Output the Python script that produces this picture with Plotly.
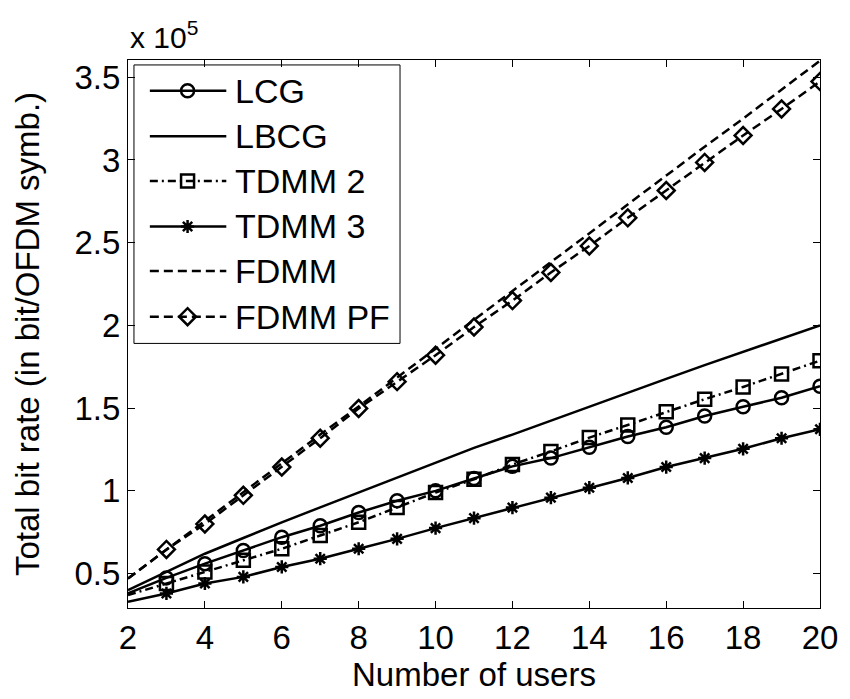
import plotly.graph_objects as go

# Number of users on the horizontal axis
users = list(range(2, 21))

# Total bit rate, in units of 10^5 bit per OFDM symbol
rate_lcg = [0.38, 0.474, 0.56, 0.64, 0.72, 0.789, 0.869, 0.94, 1.0, 1.075,
            1.148, 1.198, 1.264, 1.328, 1.384, 1.452, 1.508, 1.563, 1.632]
rate_lbcg = [0.40, 0.51, 0.62, 0.715, 0.81, 0.90, 0.99, 1.08, 1.17, 1.26,
             1.34, 1.425, 1.51, 1.595, 1.677, 1.76, 1.84, 1.92, 2.0]
rate_tdmm2 = [0.37, 0.44, 0.51, 0.58, 0.65, 0.73, 0.81, 0.90, 0.99, 1.07,
              1.159, 1.238, 1.322, 1.398, 1.478, 1.554, 1.628, 1.707, 1.787]
rate_tdmm3 = [0.33, 0.38, 0.44, 0.48, 0.54, 0.59, 0.65, 0.71, 0.775, 0.835,
              0.899, 0.959, 1.019, 1.078, 1.144, 1.198, 1.254, 1.318, 1.372]
rate_fdmm = [0.47, 0.645, 0.82, 0.99, 1.165, 1.34, 1.51, 1.685, 1.86, 2.03,
             2.21, 2.38, 2.555, 2.73, 2.905, 3.08, 3.25, 3.425, 3.60]
rate_fdmm_pf = [0.47, 0.646, 0.80, 0.973, 1.144, 1.318, 1.498, 1.66, 1.82, 1.99,
                2.15, 2.32, 2.48, 2.65, 2.815, 2.985, 3.148, 3.308, 3.474]

series_names = ["LCG", "LBCG", "TDMM 2", "TDMM 3", "FDMM", "FDMM PF"]

x_ticks = list(range(2, 21, 2))
y_ticks = [0.5, 1.0, 1.5, 2.0, 2.5, 3.0, 3.5]
y_tick_labels = ["0.5", "1", "1.5", "2", "2.5", "3", "3.5"]

FONT = "Liberation Sans, Arial, sans-serif"
LW = 2.5

# style per series: (values, dash, marker symbol, marker size)
styles = [
    (rate_lcg, "solid", "circle-open", 13),
    (rate_lbcg, "solid", None, 0),
    (rate_tdmm2, "8px,4px,2px,4px", "square-open", 13),
    (rate_tdmm3, "solid", "asterisk-open", 11),
    (rate_fdmm, "9px,5px", None, 0),
    (rate_fdmm_pf, "9px,5px", "diamond-open", 13),
]

fig = go.Figure()

for name, (vals, dash, sym, size) in zip(series_names, styles):
    if sym is None:
        fig.add_trace(go.Scatter(
            x=users, y=vals, mode="lines", name=name,
            line=dict(color="black", width=LW, dash=dash),
            showlegend=False))
    else:
        # no marker on the first sample (x = 2)
        sizes = [0] + [size] * (len(users) - 1)
        fig.add_trace(go.Scatter(
            x=users, y=vals, mode="lines+markers", name=name,
            line=dict(color="black", width=LW, dash=dash),
            marker=dict(symbol=sym, size=sizes, color="black", opacity=1,
                        line=dict(color="black", width=LW)),
            showlegend=False))

# Legend drawn on an overlay axis measured in pixels of the figure
L_LEFT, L_TOP, L_RIGHT, L_BOTTOM = 134, 65, 402, 346
row_y = [91, 137, 182, 228, 273, 319]
seg_x0, seg_x1, mark_x, text_x = 150, 227, 188, 234

fig.add_shape(type="rect", xref="x2", yref="y2",
              x0=L_LEFT, x1=L_RIGHT, y0=L_TOP, y1=L_BOTTOM,
              line=dict(color="black", width=1), fillcolor="white",
              layer="below")

for name, (vals, dash, sym, size), ry in zip(series_names, styles, row_y):
    fig.add_trace(go.Scatter(
        x=[seg_x0, seg_x1], y=[ry, ry], mode="lines", xaxis="x2", yaxis="y2",
        line=dict(color="black", width=LW, dash=dash),
        showlegend=False, hoverinfo="skip"))
    if sym is not None:
        fig.add_trace(go.Scatter(
            x=[mark_x], y=[ry], mode="markers", xaxis="x2", yaxis="y2",
            marker=dict(symbol=sym, size=size, color="black", opacity=1,
                        line=dict(color="black", width=LW)),
            showlegend=False, hoverinfo="skip"))
    fig.add_annotation(x=text_x, y=ry, xref="x2", yref="y2", text=name,
                       showarrow=False, xanchor="left", yanchor="middle",
                       font=dict(family=FONT, size=34, color="black"))

# exponent label above the y axis
fig.add_annotation(x=0.0, y=1.0, xref="paper", yref="paper",
                   text="x 10<sup>5</sup>", showarrow=False,
                   xanchor="left", yanchor="bottom", yshift=4,
                   font=dict(family=FONT, size=30, color="black"))

fig.update_layout(
    width=850, height=699,
    margin=dict(l=128, r=25, t=60, b=86),
    plot_bgcolor="white", paper_bgcolor="white",
    showlegend=False,
    font=dict(family=FONT, color="black"),
    xaxis=dict(range=[2, 20], tickvals=x_ticks, ticks="inside", ticklen=7,
               tickcolor="black", showline=True, linecolor="black", linewidth=1,
               mirror="ticks", showgrid=False, zeroline=False,
               tickfont=dict(size=33),
               title=dict(text="Number of users", font=dict(size=33), standoff=8)),
    yaxis=dict(range=[0.292, 3.604], tickvals=y_ticks, ticktext=y_tick_labels,
               ticks="inside", ticklen=7, tickcolor="black",
               showline=True, linecolor="black", linewidth=1,
               mirror="ticks", showgrid=False, zeroline=False,
               tickfont=dict(size=33),
               title=dict(text="Total bit rate (in bit/OFDM symb.)",
                          font=dict(size=33), standoff=24)),
    xaxis2=dict(overlaying="x", range=[128, 825], visible=False, fixedrange=True),
    yaxis2=dict(overlaying="y", range=[613, 60], visible=False, fixedrange=True),
)

fig.write_html("out.html")
